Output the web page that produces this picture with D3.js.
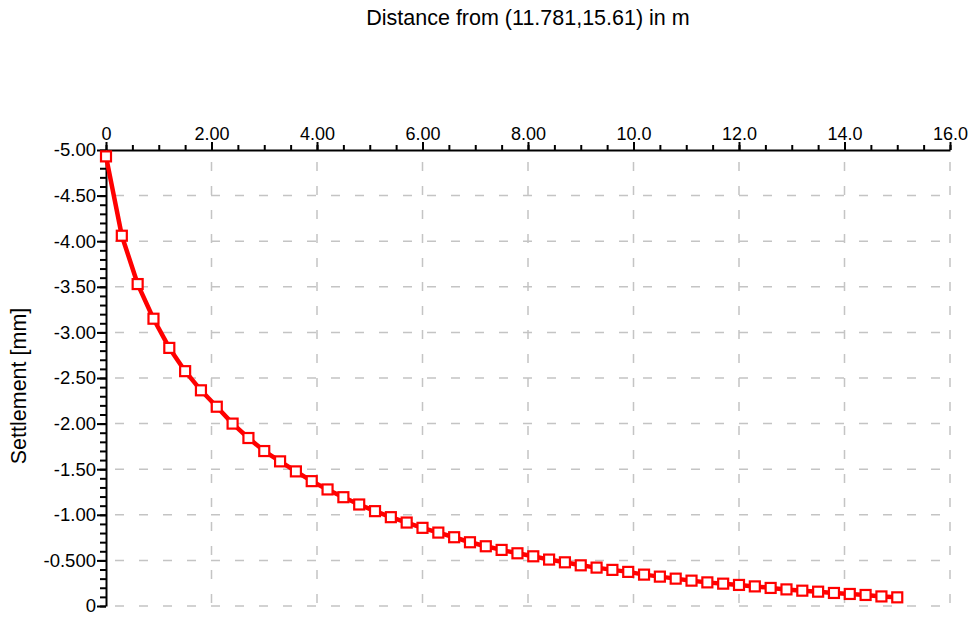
<!DOCTYPE html>
<html>
<head>
<meta charset="utf-8">
<script src="https://cdn.jsdelivr.net/npm/d3@7"></script>
<style>
  body { margin: 0; background: #fff; }
  svg text { font-family: "Liberation Sans", Arial, sans-serif; fill: #000; }
</style>
</head>
<body>
<div class="chart"></div>
<script>
// distance along the section (m)
var distance = [0, 0.3, 0.6, 0.9, 1.2, 1.5, 1.8, 2.1, 2.4, 2.7, 3.0, 3.3, 3.6, 3.9, 4.2, 4.5, 4.8,
  5.1, 5.4, 5.7, 6.0, 6.3, 6.6, 6.9, 7.2, 7.5, 7.8, 8.1, 8.4, 8.7, 9.0, 9.3, 9.6, 9.9,
  10.2, 10.5, 10.8, 11.1, 11.4, 11.7, 12.0, 12.3, 12.6, 12.9, 13.2, 13.5, 13.8, 14.1, 14.4, 14.7, 15.0];

// settlement (mm)
var settlement = [-4.93, -4.06, -3.53, -3.15, -2.83, -2.575, -2.365, -2.185, -2.00, -1.842, -1.699, -1.586,
  -1.476, -1.369, -1.278, -1.193, -1.113, -1.04, -0.974, -0.915, -0.857, -0.805, -0.754, -0.699,
  -0.655, -0.615, -0.578, -0.545, -0.509, -0.479, -0.446, -0.421, -0.396, -0.374, -0.344, -0.322,
  -0.300, -0.278, -0.259, -0.245, -0.231, -0.215, -0.198, -0.182, -0.168, -0.157, -0.143, -0.132,
  -0.121, -0.105, -0.095];

var xMajor = [0, 2, 4, 6, 8, 10, 12, 14, 16];
var yMajor = [-5, -4.5, -4, -3.5, -3, -2.5, -2, -1.5, -1, -0.5, 0];

var titleText = "Distance from (11.781,15.61) in m";
var yTitle = "Settlement [mm]";

var svgWidth = 972;
var svgHeight = 618;

var margin = { top: 150, right: 22, bottom: 12, left: 106 };
var width = svgWidth - margin.left - margin.right;
var height = svgHeight - margin.top - margin.bottom;

var data = distance.map(function(d, i) { return { x: d, y: settlement[i] }; });

var svg = d3.select(".chart").append("svg")
  .attr("width", svgWidth)
  .attr("height", svgHeight);

var chartGroup = svg.append("g")
  .attr("transform", `translate(${margin.left}, ${margin.top})`);

var xScale = d3.scaleLinear().domain([0, 16]).range([0, width]);
var yScale = d3.scaleLinear().domain([-5, 0]).range([0, height]);

// 3 significant digits, plain hyphen for the minus sign
function fmt(v) {
  if (v === 0) return "0";
  return d3.format(".3r")(v).replace("\u2212", "-");
}

// minor ticks
var xMinor = d3.range(0, 16.001, 0.5);
var yMinor = d3.range(-5, 0.001, 0.1);

// gridlines
chartGroup.append("g").selectAll("line")
  .data(yMajor.filter(function(v) { return v !== -5; }))
  .enter().append("line")
  .attr("x1", 0).attr("x2", width)
  .attr("y1", d => yScale(d)).attr("y2", d => yScale(d))
  .attr("stroke", "#c4c4c4")
  .attr("stroke-width", 1.5)
  .attr("stroke-dasharray", "9,15")
  .attr("stroke-dashoffset", 15);

chartGroup.append("g").selectAll("line")
  .data(xMajor.filter(function(v) { return v !== 0; }))
  .enter().append("line")
  .attr("x1", d => xScale(d)).attr("x2", d => xScale(d))
  .attr("y1", 0).attr("y2", height)
  .attr("stroke", "#c4c4c4")
  .attr("stroke-width", 1.5)
  .attr("stroke-dasharray", "9,15")
  .attr("stroke-dashoffset", 12);

// minor tick axes
chartGroup.append("g")
  .call(d3.axisTop(xScale).tickValues(xMinor).tickSize(5).tickSizeOuter(0).tickFormat(""))
  .call(g => g.select(".domain").remove())
  .selectAll("line").attr("stroke-width", 2);

chartGroup.append("g")
  .call(d3.axisLeft(yScale).tickValues(yMinor).tickSize(6).tickSizeOuter(0).tickFormat(""))
  .call(g => g.select(".domain").remove())
  .selectAll("line").attr("stroke-width", 2);

// major axes
var topAxis = chartGroup.append("g")
  .call(d3.axisTop(xScale).tickValues(xMajor).tickSize(8).tickPadding(2).tickSizeOuter(0).tickFormat(fmt));
topAxis.selectAll("line").attr("stroke-width", 2);
topAxis.select(".domain").attr("stroke-width", 2);
topAxis.selectAll("text").style("font-size", "18px");

var leftAxis = chartGroup.append("g")
  .call(d3.axisLeft(yScale).tickValues(yMajor).tickSize(9).tickPadding(1).tickSizeOuter(0).tickFormat(fmt));
leftAxis.selectAll("line").attr("stroke-width", 2);
leftAxis.select(".domain").attr("stroke-width", 2);
leftAxis.selectAll("text").style("font-size", "18.5px");

// settlement line
var line = d3.line()
  .x(d => xScale(d.x))
  .y(d => yScale(d.y));

chartGroup.append("path")
  .datum(data)
  .attr("fill", "none")
  .attr("stroke", "#ff0000")
  .attr("stroke-width", 4.5)
  .attr("stroke-linejoin", "round")
  .attr("d", line);

// square markers
chartGroup.selectAll(".marker")
  .data(data)
  .enter().append("rect")
  .classed("marker", true)
  .attr("x", d => xScale(d.x) - 5)
  .attr("y", d => yScale(d.y) - 5)
  .attr("width", 10)
  .attr("height", 10)
  .attr("fill", "#fff")
  .attr("stroke", "#ff0000")
  .attr("stroke-width", 2.2);

// titles
svg.append("text")
  .attr("x", margin.left + width / 2)
  .attr("y", 25)
  .attr("text-anchor", "middle")
  .style("font-size", "21.5px")
  .text(titleText);

svg.append("text")
  .attr("transform", `translate(26, ${margin.top + height / 2 + 8}) rotate(-90)`)
  .attr("text-anchor", "middle")
  .style("font-size", "21.5px")
  .text(yTitle);
</script>
</body>
</html>
